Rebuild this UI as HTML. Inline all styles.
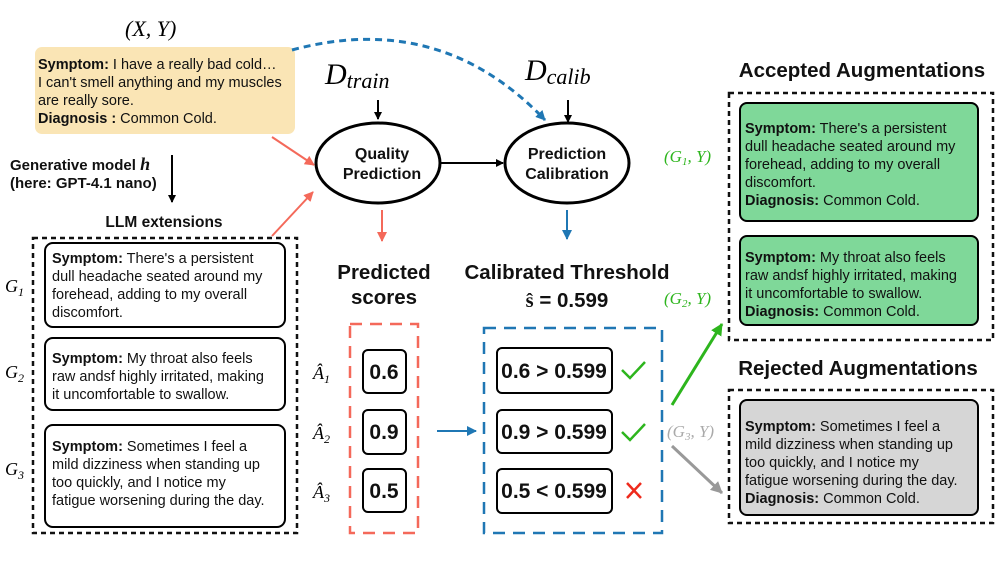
<!DOCTYPE html>
<html><head><meta charset="utf-8"><style>
body{margin:0;background:#fff}
svg{display:block;font-size:14.5px}
.s{font-family:"Liberation Sans",sans-serif;fill:#111}
.b{font-weight:bold}
.m{font-family:"Liberation Serif",serif;font-style:italic}
</style></head><body>
<svg width="997" height="561" viewBox="0 0 997 561" xmlns="http://www.w3.org/2000/svg">
<defs>
<marker id="ak" markerWidth="8" markerHeight="8" refX="7" refY="4" orient="auto" markerUnits="userSpaceOnUse"><path d="M0,0 L8,4 L0,8 z" fill="#000"/></marker>
<marker id="ar" markerWidth="10" markerHeight="10" refX="9" refY="5" orient="auto" markerUnits="userSpaceOnUse"><path d="M0,0 L10,5 L0,10 z" fill="#f4695a"/></marker>
<marker id="ab" markerWidth="10" markerHeight="10" refX="9" refY="5" orient="auto" markerUnits="userSpaceOnUse"><path d="M0,0 L10,5 L0,10 z" fill="#1f77b4"/></marker>
<marker id="ag" markerWidth="12" markerHeight="12" refX="11" refY="6" orient="auto" markerUnits="userSpaceOnUse"><path d="M0,0 L12,6 L0,12 z" fill="#2db51d"/></marker>
<marker id="ay" markerWidth="12" markerHeight="12" refX="11" refY="6" orient="auto" markerUnits="userSpaceOnUse"><path d="M0,0 L12,6 L0,12 z" fill="#999"/></marker>
</defs>
<text x="125" y="36" class="m" font-size="22">(X, Y)</text>
<rect x="35" y="47" width="260" height="87" rx="7" fill="#fae5b5"/>
<text class="s"><tspan x="38" y="69"><tspan class="b">Symptom:</tspan> I have a really bad cold…</tspan><tspan x="38" y="87">I can't smell anything and my muscles</tspan><tspan x="38" y="105">are really sore.</tspan><tspan x="38" y="123"><tspan class="b">Diagnosis :</tspan> Common Cold.</tspan></text>
<path d="M292,50 Q440,10 545,120" fill="none" stroke="#1f77b4" stroke-width="3" stroke-dasharray="7,5" marker-end="url(#ab)"/>
<text x="325" y="84" class="m" font-size="30">D<tspan font-size="22" dy="4">train</tspan></text>
<text x="525" y="80" class="m" font-size="30">D<tspan font-size="22" dy="4">calib</tspan></text>
<line x1="378" y1="100" x2="378" y2="119" stroke="#000" stroke-width="2" marker-end="url(#ak)"/>
<line x1="568" y1="100" x2="568" y2="122" stroke="#000" stroke-width="2" marker-end="url(#ak)"/>
<ellipse cx="378" cy="163" rx="62" ry="40" fill="#fff" stroke="#000" stroke-width="3"/>
<text x="382" y="159" class="s b" font-size="16" text-anchor="middle">Quality</text>
<text x="382" y="179" class="s b" font-size="16" text-anchor="middle">Prediction</text>
<ellipse cx="567" cy="163" rx="62" ry="40" fill="#fff" stroke="#000" stroke-width="3"/>
<text x="567" y="159" class="s b" font-size="16" text-anchor="middle">Prediction</text>
<text x="567" y="179" class="s b" font-size="16" text-anchor="middle">Calibration</text>
<line x1="441" y1="163" x2="503" y2="163" stroke="#000" stroke-width="2" marker-end="url(#ak)"/>
<line x1="272" y1="137" x2="314" y2="165" stroke="#f4695a" stroke-width="2" marker-end="url(#ar)"/>
<line x1="272" y1="236" x2="313" y2="192" stroke="#f4695a" stroke-width="2" marker-end="url(#ar)"/>
<line x1="382" y1="210" x2="382" y2="241" stroke="#f4695a" stroke-width="2" marker-end="url(#ar)"/>
<line x1="567" y1="210" x2="567" y2="239" stroke="#1f77b4" stroke-width="2" marker-end="url(#ab)"/>
<text x="10" y="170" class="s b" font-size="15">Generative model <tspan class="m" font-size="18">h</tspan></text>
<text x="10" y="188" class="s b" font-size="15">(here: GPT-4.1 nano)</text>
<line x1="172" y1="155" x2="172" y2="202" stroke="#000" stroke-width="2" marker-end="url(#ak)"/>
<text x="164" y="227" class="s b" font-size="15.5" text-anchor="middle">LLM extensions</text>
<rect x="33" y="238" width="264" height="295" fill="none" stroke="#111" stroke-width="2.5" stroke-dasharray="5,4"/>
<rect x="45" y="243" width="240" height="84" rx="8" fill="#fff" stroke="#000" stroke-width="2"/>
<text class="s"><tspan x="52" y="263"><tspan class="b">Symptom:</tspan> There's a persistent</tspan><tspan x="52" y="281">dull headache seated around my</tspan><tspan x="52" y="299">forehead, adding to my overall</tspan><tspan x="52" y="317">discomfort.</tspan></text>
<rect x="45" y="338" width="240" height="72" rx="8" fill="#fff" stroke="#000" stroke-width="2"/>
<text class="s"><tspan x="52" y="363"><tspan class="b">Symptom:</tspan> My throat also feels</tspan><tspan x="52" y="381">raw andsf highly irritated, making</tspan><tspan x="52" y="399">it uncomfortable to swallow.</tspan></text>
<rect x="45" y="425" width="240" height="102" rx="8" fill="#fff" stroke="#000" stroke-width="2"/>
<text class="s"><tspan x="52" y="451"><tspan class="b">Symptom:</tspan> Sometimes I feel a</tspan><tspan x="52" y="469">mild dizziness when standing up</tspan><tspan x="52" y="487">too quickly, and I notice my</tspan><tspan x="52" y="505">fatigue worsening during the day.</tspan></text>
<text x="5" y="292" class="m" font-size="18">G<tspan font-size="12" dy="4">1</tspan></text>
<text x="5" y="378" class="m" font-size="18">G<tspan font-size="12" dy="4">2</tspan></text>
<text x="5" y="475" class="m" font-size="18">G<tspan font-size="12" dy="4">3</tspan></text>
<text x="384" y="279" class="s b" font-size="20.5" text-anchor="middle">Predicted</text>
<text x="384" y="304" class="s b" font-size="20.5" text-anchor="middle">scores</text>
<text x="567" y="279" class="s b" font-size="20.5" text-anchor="middle">Calibrated Threshold</text>
<text x="567" y="307" class="s b" font-size="20.5" text-anchor="middle"><tspan font-family="Liberation Serif" font-weight="bold">ŝ</tspan> = 0.599</text>
<rect x="350" y="324" width="68" height="209" fill="none" stroke="#f4695a" stroke-width="2.5" stroke-dasharray="12,8"/>
<g class="s b" font-size="21" text-anchor="middle">
<rect x="363" y="350" width="43" height="43" rx="5" fill="#fff" stroke="#000" stroke-width="2"/><text x="384" y="379">0.6</text>
<rect x="363" y="410" width="43" height="44" rx="5" fill="#fff" stroke="#000" stroke-width="2"/><text x="384" y="439">0.9</text>
<rect x="363" y="469" width="43" height="43" rx="5" fill="#fff" stroke="#000" stroke-width="2"/><text x="384" y="498">0.5</text>
</g>
<text x="313" y="379" class="m" font-size="18">Â<tspan font-size="12" dy="4">1</tspan></text>
<text x="313" y="439" class="m" font-size="18">Â<tspan font-size="12" dy="4">2</tspan></text>
<text x="313" y="498" class="m" font-size="18">Â<tspan font-size="12" dy="4">3</tspan></text>
<line x1="437" y1="431" x2="476" y2="431" stroke="#1f77b4" stroke-width="2" marker-end="url(#ab)"/>
<rect x="484" y="328" width="178" height="205" fill="none" stroke="#1f77b4" stroke-width="2.5" stroke-dasharray="12,8"/>
<g class="s b" font-size="21" text-anchor="middle">
<rect x="497" y="348" width="115" height="45" rx="5" fill="#fff" stroke="#000" stroke-width="2"/><text x="554" y="378">0.6 &gt; 0.599</text>
<rect x="497" y="410" width="115" height="43" rx="5" fill="#fff" stroke="#000" stroke-width="2"/><text x="554" y="439">0.9 &gt; 0.599</text>
<rect x="497" y="469" width="115" height="44" rx="5" fill="#fff" stroke="#000" stroke-width="2"/><text x="554" y="498">0.5 &lt; 0.599</text>
</g>
<path d="M622,370 L630,378 L645,362" fill="none" stroke="#2db51d" stroke-width="2.5"/>
<path d="M622,432 L630,440 L645,424" fill="none" stroke="#2db51d" stroke-width="2.5"/>
<path d="M627,483 L641,498 M641,483 L627,498" stroke="#ee2a1c" stroke-width="2.5"/>
<text x="862" y="77" class="s b" font-size="20.5" text-anchor="middle">Accepted Augmentations</text>
<rect x="729" y="93" width="264" height="247" fill="none" stroke="#111" stroke-width="2.5" stroke-dasharray="5,4"/>
<rect x="740" y="103" width="238" height="118" rx="7" fill="#7fd899" stroke="#000" stroke-width="2"/>
<text class="s"><tspan x="745" y="133"><tspan class="b">Symptom:</tspan> There's a persistent</tspan><tspan x="745" y="151">dull headache seated around my</tspan><tspan x="745" y="169">forehead, adding to my overall</tspan><tspan x="745" y="187">discomfort.</tspan><tspan x="745" y="205"><tspan class="b">Diagnosis:</tspan> Common Cold.</tspan></text>
<rect x="740" y="236" width="238" height="89" rx="7" fill="#7fd899" stroke="#000" stroke-width="2"/>
<text class="s"><tspan x="745" y="262"><tspan class="b">Symptom:</tspan> My throat also feels</tspan><tspan x="745" y="280">raw andsf highly irritated, making</tspan><tspan x="745" y="298">it uncomfortable to swallow.</tspan><tspan x="745" y="316"><tspan class="b">Diagnosis:</tspan> Common Cold.</tspan></text>
<text x="858" y="375" class="s b" font-size="20.5" text-anchor="middle">Rejected Augmentations</text>
<rect x="729" y="390" width="264" height="133" fill="none" stroke="#111" stroke-width="2.5" stroke-dasharray="5,4"/>
<rect x="740" y="400" width="238" height="115" rx="7" fill="#d6d6d6" stroke="#000" stroke-width="2"/>
<text class="s"><tspan x="745" y="431"><tspan class="b">Symptom:</tspan> Sometimes I feel a</tspan><tspan x="745" y="449">mild dizziness when standing up</tspan><tspan x="745" y="467">too quickly, and I notice my</tspan><tspan x="745" y="485">fatigue worsening during the day.</tspan><tspan x="745" y="503"><tspan class="b">Diagnosis:</tspan> Common Cold.</tspan></text>
<text x="664" y="162" class="m" font-size="17" fill="#2db51d">(G<tspan font-size="11" dy="3">1</tspan><tspan dy="-3">, Y)</tspan></text>
<text x="664" y="304" class="m" font-size="17" fill="#2db51d">(G<tspan font-size="11" dy="3">2</tspan><tspan dy="-3">, Y)</tspan></text>
<text x="667" y="437" class="m" font-size="17" fill="#aaa">(G<tspan font-size="11" dy="3">3</tspan><tspan dy="-3">, Y)</tspan></text>
<line x1="672" y1="405" x2="722" y2="324" stroke="#2db51d" stroke-width="3" marker-end="url(#ag)"/>
<line x1="672" y1="446" x2="722" y2="493" stroke="#999" stroke-width="3" marker-end="url(#ay)"/>
</svg>
</body></html>
